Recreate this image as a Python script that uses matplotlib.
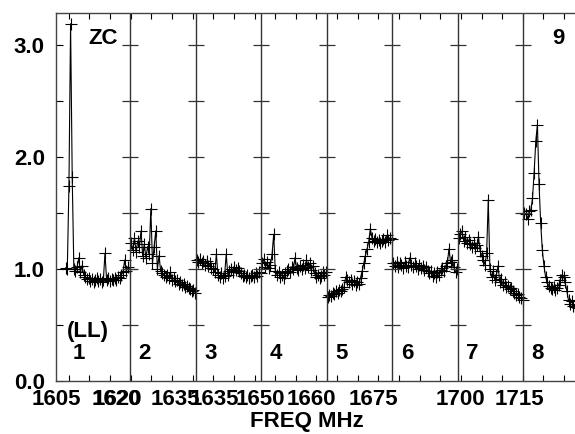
import numpy as np
import matplotlib
matplotlib.use('Agg')
import matplotlib.pyplot as plt

plt.rcParams['font.family'] = ['Liberation Sans', 'DejaVu Sans']
plt.rcParams['font.weight'] = 'bold'

##
## channel amplitudes per IF
if1 = [1.01, 1.00, 1.74, 3.19, 1.82, 1.00, 0.98, 1.02, 1.10, 0.97,
       1.03, 0.95, 0.93, 0.91, 0.92, 0.89, 0.91, 0.88, 0.90, 0.92,
       0.89, 0.91, 0.88, 0.90, 1.14, 0.90, 0.92, 0.89, 0.91, 0.90,
       0.92, 0.90, 0.93, 0.92, 0.95, 0.97, 1.08, 0.98, 1.02, 1.00]
if2 = [1.23, 1.17, 1.28, 1.15, 1.25, 1.20, 1.34, 1.12, 1.22, 1.10,
       1.20, 1.13, 1.54, 1.05, 1.20, 1.34, 1.00, 1.12, 0.98, 0.96,
       0.95, 0.93, 0.95, 0.92, 0.97, 0.90, 0.92, 0.89, 0.90, 0.87,
       0.88, 0.86, 0.87, 0.84, 0.85, 0.83, 0.82, 0.80, 0.81, 0.79]
if3 = [1.08, 1.06, 1.09, 1.05, 1.07, 1.04, 1.07, 1.03, 1.05, 1.01,
       1.00, 0.97, 1.13, 0.95, 0.93, 0.96, 0.92, 0.94, 1.13, 0.95,
       0.98, 1.00, 0.97, 1.02, 0.99, 1.01, 0.98, 0.96, 0.94, 0.95,
       0.93, 0.95, 0.92, 0.94, 0.95, 0.93, 0.96, 0.94, 0.97, 0.96]
if4 = [1.05, 1.09, 1.02, 1.06, 1.01, 1.04, 1.13, 1.31, 0.98, 0.95,
       0.97, 0.93, 0.95, 0.92, 0.96, 0.98, 1.00, 0.97, 1.02, 1.00,
       1.10, 1.01, 0.99, 1.03, 1.00, 1.04, 1.01, 1.08, 1.02, 1.05,
       0.99, 1.03, 0.96, 0.93, 0.95, 0.92, 0.94, 0.97, 0.95, 0.97]
if5 = [0.75, 0.77, 0.76, 0.79, 0.78, 0.80, 0.79, 0.81, 0.80, 0.82,
       0.84, 0.93, 0.90, 0.88, 0.90, 0.87, 0.89, 0.86, 0.88, 0.87,
       0.92, 0.98, 1.05, 1.12, 1.18, 1.24, 1.36, 1.28, 1.25, 1.27,
       1.24, 1.26, 1.23, 1.25, 1.27, 1.24, 1.30, 1.26, 1.28, 1.27]
if6 = [1.05, 1.03, 1.06, 1.02, 1.05, 1.04, 1.01, 1.06, 1.03, 1.02,
       1.10, 1.04, 1.02, 1.05, 1.03, 1.00, 1.04, 1.01, 1.03, 0.99,
       1.02, 0.98, 0.96, 0.98, 0.94, 0.96, 0.93, 0.97, 0.95, 0.99,
       1.01, 0.98, 1.03, 1.05, 1.18, 1.06, 1.08, 1.02, 0.97, 1.00]
if7 = [1.28, 1.31, 1.34, 1.25, 1.29, 1.23, 1.26, 1.22, 1.20, 1.23,
       1.19, 1.21, 1.29, 1.16, 1.12, 1.08, 1.04, 1.14, 1.62, 1.00,
       0.93, 0.98, 0.90, 0.95, 1.03, 0.88, 0.91, 0.86, 0.88, 0.84,
       0.85, 0.82, 0.83, 0.80, 0.79, 0.77, 0.78, 0.75, 0.74, 0.72]
if8 = [1.50, 1.49, 1.45, 1.52, 1.53, 1.63, 1.86, 2.14, 2.29, 1.76,
       1.41, 1.17, 1.03, 0.93, 0.88, 0.85, 0.83, 0.82, 0.84, 0.81,
       0.83, 0.86, 0.90, 0.95, 0.93, 0.88, 0.80, 0.72, 0.69, 0.71,
       0.67, 0.66, 0.68, 0.65, 0.66, 0.64, 0.65, 0.63, 0.64, 0.62]

panels = [if1, if2, if3, if4, if5, if6, if7, if8]
panel_ids = ['1', '2', '3', '4', '5', '6', '7', '8']

freq_labels = ['1605', '1620', '1620', '1635', '1635', '1650', '1660', '1675', '1700', '1715']
freq_label_pos = [-0.135, 0.78, 0.795, 1.68, 2.28, 2.99, 3.77, 4.71, 6.04, 6.94]

y_major = [0.0, 1.0, 2.0, 3.0]
y_labels = ['0.0', '1.0', '2.0', '3.0']

##
## output graph
fig = plt.figure(figsize=(5.75, 4.34), dpi=100)
ax = fig.add_axes([56/575, 53/434, 533/575, 368/434])

for k, vals in enumerate(panels):
    n = len(vals)
    x = k + (np.arange(n) + 0.5) / n
    ax.plot(x, vals, color='black', lw=0.8, marker='+', ms=9, mew=0.8)

ax.set_xlim(0, 8)
ax.set_ylim(0, 3.286)

# panel separators with in-out ticks
y_minor = np.arange(0.5, 3.3, 0.5)
for b in range(1, 8):
    ax.axvline(b, color='#333333', lw=1.0)
    ax.plot(np.full(len(y_minor), b), y_minor, ls='none', marker='_',
            ms=11, mew=0.9, color='#333333')

for s in ['left', 'top', 'bottom']:
    ax.spines[s].set_color('#444444')
    ax.spines[s].set_linewidth(1.0)

ax.set_xticks(np.arange(0.06, 8, 0.315))
ax.set_xticklabels([])
ax.set_xticks(freq_label_pos, freq_labels, minor=True)
ax.tick_params(axis='x', which='major', direction='in', top=True, length=4.5, width=0.8)
ax.tick_params(axis='x', which='minor', length=0, pad=6, labelsize=16)

ax.set_yticks(y_major, y_labels)
ax.set_yticks(y_minor, minor=True)
ax.tick_params(axis='y', which='both', direction='in', length=5, width=0.8, pad=8, labelsize=16)

for k, pid in enumerate(panel_ids):
    ax.text(k + 0.22, 0.25, pid, ha='center', va='center', fontsize=16)
ax.text(0.03, 0.44, '(LL)', ha='left', va='center', fontsize=16)
ax.text(0.585, 3.06, 'ZC', ha='center', va='center', fontsize=16)
ax.text(7.54, 3.06, '9', ha='center', va='center', fontsize=16)

fig.text(307/575, 1 - 422/434, 'FREQ MHz', ha='center', va='center', fontsize=16)

plt.savefig('out.png', dpi=100)
